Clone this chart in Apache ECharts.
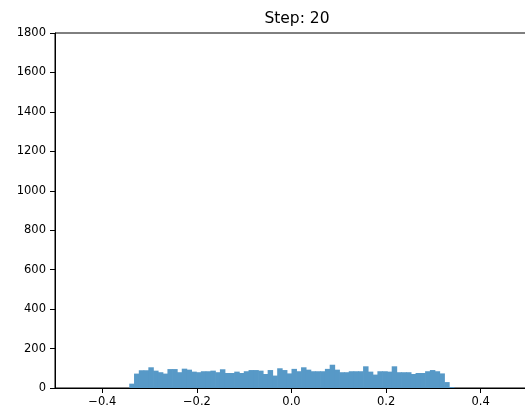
<!DOCTYPE html>
<html>
<head>
<meta charset="utf-8">
<script src="https://cdn.jsdelivr.net/npm/echarts@6/dist/echarts.min.js"></script>
<style>
html,body{margin:0;padding:0;background:#fff;}
#c{width:525px;height:414px;}
</style>
</head>
<body>
<div id="c"></div>
<script>
// Histogram data
const binStart = -0.343;
const binEnd = 0.343;
const counts = [
  22,73,90,90,105,88,80,73,96,96,80,98,93,83,80,85,85,88,80,
  95,76,76,83,76,85,91,91,88,71,91,63,100,91,74,97,85,105,93,85,85,85,97,118,
  93,80,80,85,85,85,110,83,68,85,85,83,110,80,80,80,71,76,76,85,91,85,74,30,5
];
const xTicks = [-0.4, -0.2, 0.0, 0.2, 0.4];
const yTicks = [0,200,400,600,800,1000,1200,1400,1600,1800];
const titleText = 'Step: 20';

const nBins = counts.length;
const binW = (binEnd - binStart) / nBins;
const histData = counts.map((c, i) => [binStart + i * binW, binStart + (i + 1) * binW, c]);

const fontFamily = 'DejaVu Sans';
const chart = echarts.init(document.getElementById('c'), null, {renderer: 'canvas'});
chart.setOption({
  animation: false,
  backgroundColor: '#ffffff',
  title: {
    text: titleText,
    left: 292, top: 6,
    textAlign: 'center',
    textStyle: {fontFamily, fontSize: 15.5, fontWeight: 'normal', color: '#000'}
  },
  grid: {
    left: 55, top: 33, width: 473, height: 355,
    containLabel: false,
    outerBoundsMode: 'none',
    show: true, borderColor: '#000', borderWidth: 1, backgroundColor: 'transparent'
  },
  xAxis: {
    type: 'value', min: -0.5, max: 0.5, interval: 0.1,
    axisLine: {show: true, onZero: false, lineStyle: {color: '#000', width: 1}},
    axisTick: {show: true, length: 5, inside: false, customValues: xTicks, lineStyle: {color: '#000'}},
    axisLabel: {
      customValues: xTicks, margin: 8,
      fontFamily, fontSize: 11.5, color: '#000',
      formatter: v => (Math.abs(v) < 1e-9 ? '0.0' : (v < 0 ? '\u2212' + Math.abs(v).toFixed(1) : v.toFixed(1)))
    },
    splitLine: {show: false}
  },
  yAxis: {
    type: 'value', min: 0, max: 1800, interval: 200,
    axisLine: {show: true, onZero: false, lineStyle: {color: '#000', width: 1}},
    axisTick: {show: true, length: 5, lineStyle: {color: '#000'}},
    axisLabel: {margin: 9, fontFamily, fontSize: 11.5, color: '#000', formatter: v => String(v)},
    splitLine: {show: false}
  },
  series: [{
    type: 'custom',
    clip: true,
    data: histData,
    encode: {x: [0, 1], y: 2},
    renderItem: function (params, api) {
      const p0 = api.coord([api.value(0), api.value(2)]);
      const p1 = api.coord([api.value(1), 0]);
      return {
        type: 'rect',
        shape: {x: p0[0], y: p0[1], width: p1[0] - p0[0] + 0.7, height: p1[1] - p0[1]},
        style: {fill: '#5799c7'}
      };
    }
  }]
});
</script>
</body>
</html>
